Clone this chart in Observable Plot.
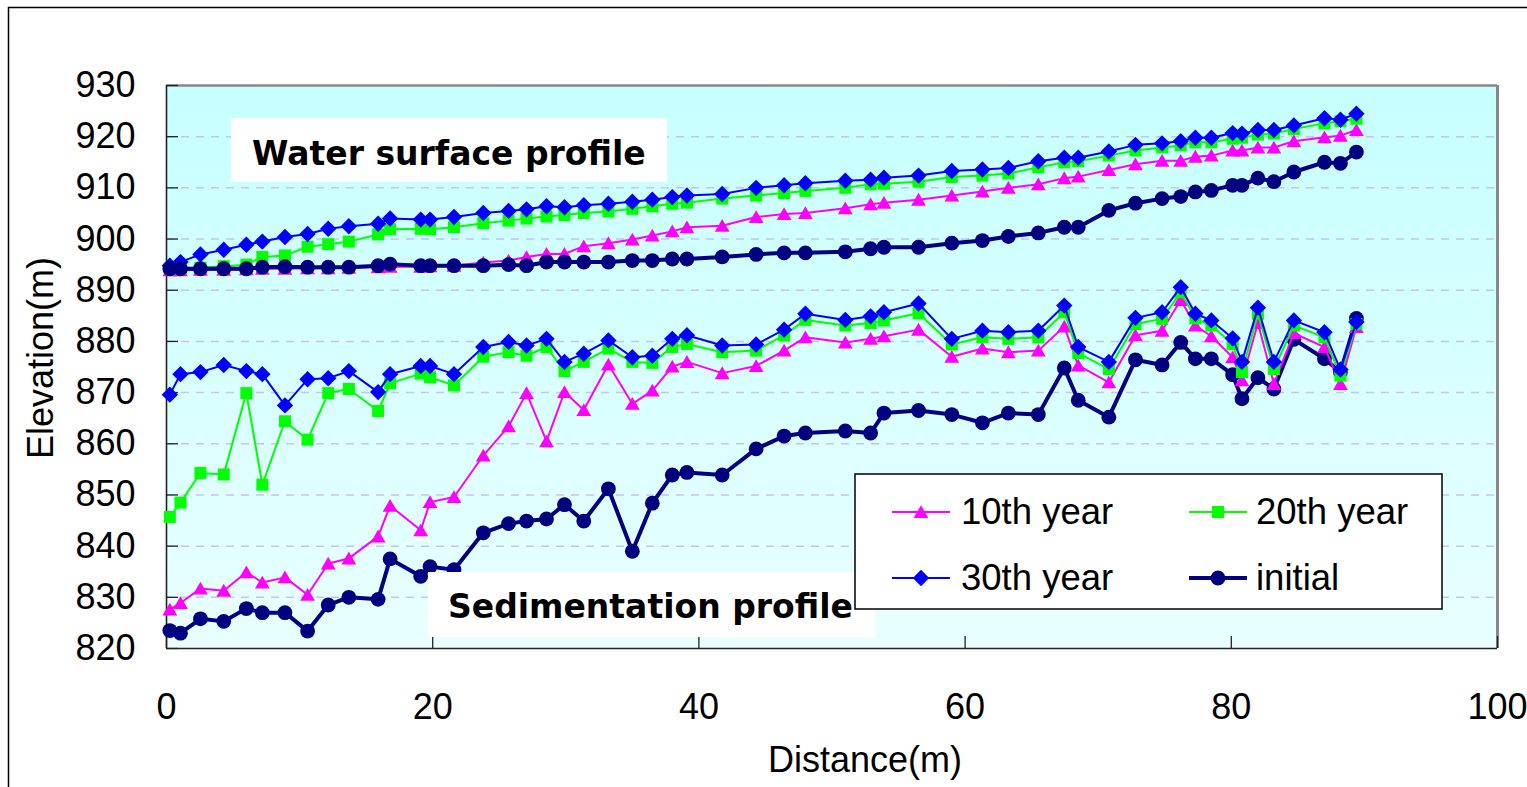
<!DOCTYPE html>
<html><head><meta charset="utf-8">
<script src="https://cdn.jsdelivr.net/npm/d3@7"></script>
<script src="https://cdn.jsdelivr.net/npm/@observablehq/plot@0.6"></script>
<style>
html,body{margin:0;padding:0;background:#fff;}
#wrap{position:relative;width:1527px;height:787px;overflow:hidden;}
#wrap svg{position:absolute;left:0;top:0;}
</style></head><body><div id="wrap"></div>
<script>
// ---------- data ----------
const distance = [0.25,1.05,2.55,4.3,6.0,7.2,8.9,10.6,12.15,13.7,15.9,16.8,19.1,19.8,21.6,23.8,25.7,27.05,28.55,29.9,
  31.35,33.2,35.0,36.5,38.0,39.1,41.75,44.3,46.4,48.0,51.0,52.9,53.9,56.5,59.0,61.3,63.25,65.5,67.45,68.5,
  70.8,72.8,74.8,76.2,77.3,78.5,80.1,80.8,82.0,83.2,84.7,87.0,88.2,89.4];

const waterInitial = [894.2,894.2,894.2,894.2,894.2,894.5,894.6,894.5,894.5,894.5,894.8,895.1,894.8,894.8,894.8,894.8,895.0,894.8,895.5,895.5,
  895.5,895.5,895.8,895.8,896.1,896.1,896.5,897.0,897.3,897.3,897.5,898.1,898.4,898.4,899.2,899.7,900.5,901.2,902.3,902.3,
  905.6,907.0,907.9,908.3,909.2,909.5,910.5,910.5,911.9,911.2,913.1,915.0,914.8,917.0];
const water10 = [893.9,893.9,894.0,894.0,894.1,894.2,894.2,894.3,894.3,894.4,894.5,894.6,894.6,894.7,894.8,895.4,895.8,896.5,897.1,897.1,
  898.6,899.2,899.9,900.7,901.5,902.3,902.6,904.3,904.9,905.1,906.0,906.8,907.1,907.7,908.5,909.3,910.0,910.7,911.9,912.2,
  913.5,914.6,915.3,915.3,916.1,916.3,917.3,917.3,917.9,917.9,919.1,919.9,920.2,921.3];
const water20 = [894.3,894.3,894.4,894.7,895.0,896.5,896.8,898.5,899.0,899.5,900.9,901.9,902.0,901.9,902.3,903.1,903.6,904.0,904.4,904.7,
  905.1,905.4,905.9,906.4,906.9,907.1,907.9,908.5,909.0,909.4,910.0,910.7,910.8,911.2,912.1,912.4,912.8,914.0,915.0,915.2,
  916.3,917.3,917.9,918.3,918.9,918.9,919.6,919.8,920.4,920.6,921.5,922.6,923.0,923.5];
const water30 = [894.8,895.5,897.0,897.9,898.9,899.5,900.4,901.0,902.0,902.5,903.0,904.0,903.8,903.8,904.3,905.1,905.5,905.8,906.4,906.2,
  906.6,906.9,907.3,907.7,908.2,908.5,908.8,910.0,910.5,910.9,911.4,911.6,912.0,912.4,913.3,913.6,913.9,915.2,915.9,915.9,
  917.1,918.4,918.7,919.1,919.8,919.8,920.7,920.6,921.3,921.3,922.2,923.6,923.3,924.5];

const sedInitial = [823.5,823.0,825.8,825.3,827.8,827.0,827.0,823.4,828.5,830.0,829.6,837.5,834.1,836.0,835.4,842.6,844.4,844.9,845.3,848.1,
  844.9,851.2,839.0,848.4,853.9,854.4,853.9,859.0,861.5,862.1,862.5,862.1,866.0,866.5,865.7,864.1,866.0,865.7,874.8,868.5,
  865.2,876.4,875.4,879.8,876.6,876.6,873.5,868.8,872.9,870.7,880.4,876.6,874.0,884.5];
const sed10 = [827.6,828.9,831.7,831.3,834.9,832.9,833.9,830.5,836.6,837.6,841.9,847.9,843.1,848.6,849.6,857.7,863.4,869.9,860.5,870.1,
  866.6,875.5,867.8,870.4,875.1,876.0,873.8,875.2,878.2,880.8,879.8,880.5,881.0,882.3,877.0,878.6,877.9,878.2,882.9,875.3,
  872.0,881.2,882.1,888.1,883.1,881.0,876.9,872.4,883.6,871.7,881.6,878.9,871.7,882.8];
const sed20 = [845.7,848.5,854.3,854.0,869.9,852.0,864.4,860.8,869.9,870.7,866.4,871.8,873.7,873.0,871.4,877.0,877.9,877.2,878.9,874.2,
  876.0,878.6,876.0,875.8,878.9,879.5,877.9,878.2,881.2,884.2,883.1,883.6,884.1,885.5,879.4,880.8,880.5,880.8,885.7,877.7,
  874.6,883.4,884.4,889.6,884.5,883.1,879.5,874.0,885.4,874.6,883.1,880.8,873.3,883.4];
const sed30 = [869.6,873.6,874.0,875.4,874.2,873.6,867.5,872.6,872.8,874.2,870.1,873.6,875.2,875.2,873.6,878.9,879.9,879.2,880.5,876.0,
  877.6,880.2,876.9,877.2,880.5,881.2,879.2,879.4,882.3,885.4,884.2,884.9,885.7,887.4,880.5,882.1,881.8,882.1,887.0,878.9,
  876.0,884.6,885.7,890.6,885.4,884.1,880.6,876.0,886.6,876.0,884.1,881.8,874.5,883.8];

const xTicks = [0,20,40,60,80,100];
const yTicks = [820,830,840,850,860,870,880,890,900,910,920,930];
const gridValues = [830,840,850,860,870,880,890,900,910,920];
const seriesNames = ["10th year","20th year","30th year","initial"];
const noteTexts = ["Water surface profile","Sedimentation profile"];
const xTitle = "Distance(m)";
const yTitle = "Elevation(m)";

// ---------- styles ----------
const triSym = {draw(c){ c.moveTo(0,-6.8); c.lineTo(7.4,6); c.lineTo(-7.4,6); c.closePath(); }};
const sqSym  = {draw(c){ c.rect(-6,-6,12,12); }};
const diaSym = {draw(c){ c.moveTo(0,-8.2); c.lineTo(8.2,0); c.lineTo(0,8.2); c.lineTo(-8.2,0); c.closePath(); }};
const styleOf = {
  "10th year": {color:"#FF00FF", width:2, symbol:triSym, r:5},
  "20th year": {color:"#00FF00", width:2, symbol:sqSym, r:5},
  "30th year": {color:"#0000FF", width:2, symbol:diaSym, r:5},
  "initial":   {color:"#000080", width:4, symbol:"circle", r:7.4}
};
const drawOrder = [["initial", sedInitial],["10th year", sed10],["20th year", sed20],["30th year", sed30],
                   ["10th year", water10],["20th year", water20],["30th year", water30],["initial", waterInitial]];

const W = 1527, H = 787, mL = 166, mT = 85, mR = 30, mB = 139;
const plotW = W - mL - mR, plotH = H - mT - mB;
const font = "'Liberation Sans', Arial, Helvetica, sans-serif";

const defsMark = () => {
  const ns = "http://www.w3.org/2000/svg";
  const defs = document.createElementNS(ns, "defs");
  const lg = document.createElementNS(ns, "linearGradient");
  lg.setAttribute("id","plotBg"); lg.setAttribute("x1","0"); lg.setAttribute("y1","0"); lg.setAttribute("x2","0"); lg.setAttribute("y2","1");
  [["0%","#C6FFFF"],["100%","#E9FFFF"]].forEach(([o,c]) => {
    const s = document.createElementNS(ns,"stop"); s.setAttribute("offset",o); s.setAttribute("stop-color",c); lg.appendChild(s);
  });
  defs.appendChild(lg);
  return defs;
};

const seriesMarks = drawOrder.flatMap(([name, vals]) => {
  const st = styleOf[name];
  return [
    Plot.line(vals, {x: distance, y: vals, stroke: st.color, strokeWidth: st.width, strokeLinejoin: "round"}),
    Plot.dot(vals, {x: distance, y: vals, symbol: st.symbol, r: st.r, fill: st.color, stroke: null})
  ];
});

const plot = Plot.plot({
  width: W, height: H, marginLeft: mL, marginTop: mT, marginRight: mR, marginBottom: mB,
  x: {domain: [0,100]},
  y: {domain: [820,930]},
  style: {fontFamily: font, fontSize: "36px", background: "transparent", color: "#000"},
  marks: [
    defsMark,
    Plot.frame({fill: "url(#plotBg)", stroke: null}),
    Plot.ruleY(gridValues, {stroke: "#C4C4EE", strokeWidth: 1.5, strokeDasharray: "8,7"}),
    Plot.ruleY([930], {stroke: "#888", strokeWidth: 2.5}),
    Plot.ruleX([100], {stroke: "#888", strokeWidth: 3}),
    Plot.ruleX([0], {stroke: "#222", strokeWidth: 1.6}),
    Plot.ruleY([820], {stroke: "#222", strokeWidth: 1.6}),
    Plot.tickX(xTicks, {x: d => d, stroke: "#222", strokeWidth: 1.3, insetTop: plotH - 12}),
    Plot.tickY(yTicks, {y: d => d, stroke: "#222", strokeWidth: 1.3, insetRight: plotW - 12}),
    ...seriesMarks,
    Plot.axisX(xTicks, {tickSize: 0, tickPadding: 45, label: null, fontSize: 36}),
    Plot.axisY(yTicks, {tickSize: 0, tickPadding: 31, label: null, fontSize: 36})
  ]
});
document.getElementById("wrap").appendChild(plot);

// ---------- overlay: border, titles, notes, legend ----------
const svg = d3.select(plot);
const ov = svg.append("g").attr("font-family", font).attr("text-anchor", "start");
ov.append("path").attr("d", `M8.5,${H+10} V7.5 H${W+10}`).attr("fill","none").attr("stroke","#000").attr("stroke-width",1.5);

ov.append("text").attr("x", 865).attr("y", 772).attr("text-anchor","middle").attr("font-size", 36).attr("fill","#000").text(xTitle);
ov.append("text").attr("transform","translate(53,358) rotate(-90)").attr("text-anchor","middle").attr("font-size", 36).attr("fill","#000").text(yTitle);

const noteBoxes = [{x0:231,y0:118,x1:667,y1:182,tx:252,ty:165},{x0:428,y0:572,x1:875,y1:637,tx:448,ty:618}];
noteTexts.forEach((t,i) => {
  const b = noteBoxes[i];
  ov.append("rect").attr("x",b.x0).attr("y",b.y0).attr("width",b.x1-b.x0).attr("height",b.y1-b.y0).attr("fill","#fff");
  ov.append("text").attr("x",b.tx).attr("y",b.ty).attr("text-anchor","start").attr("font-family","'DejaVu Sans', Verdana, sans-serif")
    .attr("font-weight","bold").attr("font-size",33).attr("fill","#000").text(t);
});

const lg = ov.append("g").attr("transform","translate(855,474)");
lg.append("rect").attr("x",0).attr("y",0).attr("width",587).attr("height",135).attr("fill","#fff").attr("stroke","#000").attr("stroke-width",1.5);
const legPos = [{lx:37,ly:38,tx:106},{lx:334,ly:38,tx:401},{lx:37,ly:104,tx:106},{lx:334,ly:104,tx:401}];
seriesNames.forEach((name,i) => {
  const p = legPos[i], st = styleOf[name];
  lg.append("line").attr("x1",p.lx).attr("x2",p.lx+58).attr("y1",p.ly).attr("y2",p.ly)
    .attr("stroke",st.color).attr("stroke-width",st.width);
  if (st.symbol === "circle") lg.append("circle").attr("cx",p.lx+29).attr("cy",p.ly).attr("r",st.r).attr("fill",st.color);
  else lg.append("path").attr("transform",`translate(${p.lx+29},${p.ly})`).attr("d", d3.symbol(st.symbol)()).attr("fill",st.color);
  lg.append("text").attr("x",p.tx).attr("y",p.ly+12).attr("text-anchor","start").attr("font-size",36.5).attr("fill","#000").text(name);
});
</script></body></html>
